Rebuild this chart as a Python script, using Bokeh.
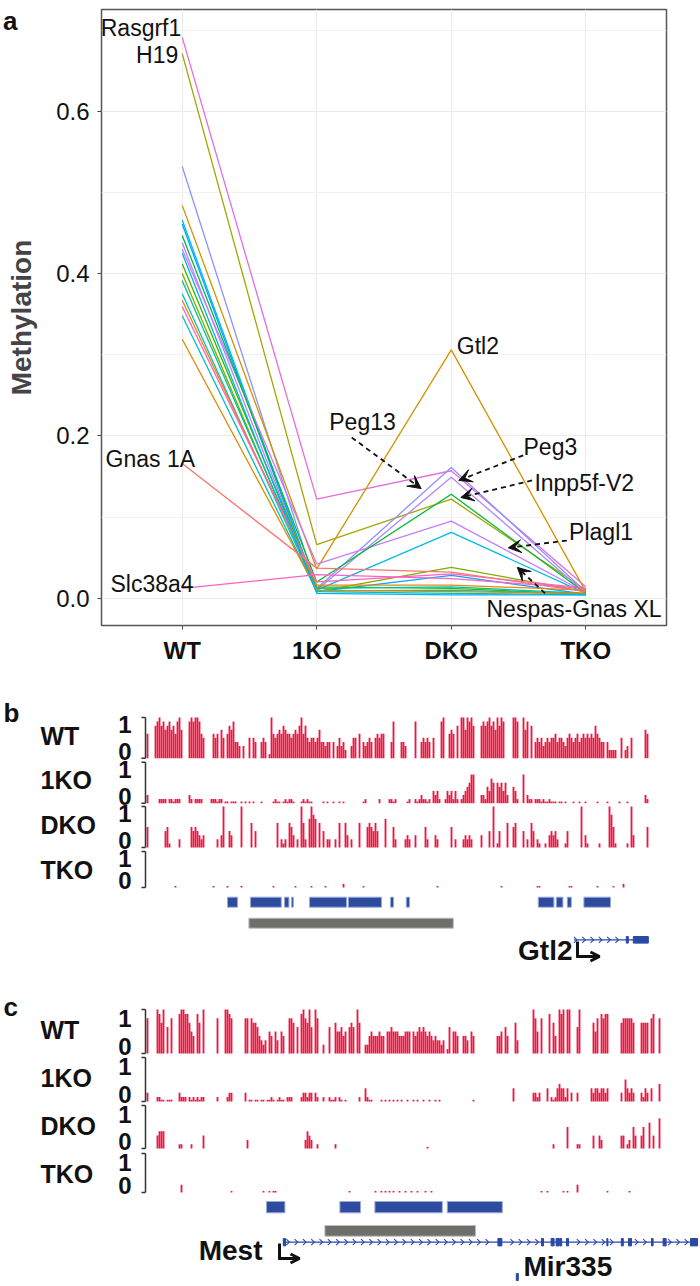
import numpy as np
from bokeh.plotting import figure
from bokeh.models import (Range1d, FixedTicker, PrintfTickFormatter, ColumnDataSource,
                          Arrow, VeeHead, OpenHead, LinearAxis)
from bokeh.layouts import column
from bokeh.embed import file_html
from bokeh.resources import INLINE
from bokeh.core.properties import value

FONT = "Liberation Sans"

# ---------------- panel a data ----------------
stages = ["WT", "1KO", "DKO", "TKO"]
genes = ["Rasgrf1", "H19", "Peg13", "Gtl2", "Nespas-Gnas XL", "Snrpn", "Peg3", "Plagl1",
         "Inpp5f-V2", "Kcnq1ot1", "Mest", "Igf2r", "Zrsr1", "Nnat", "Peg10", "Impact",
         "Grb10", "Nap1l5", "Gnas 1A", "Slc38a4"]
meth_wt = [0.691, 0.671, 0.532, 0.484, 0.466, 0.461, 0.438, 0.430, 0.447, 0.412,
           0.400, 0.391, 0.375, 0.367, 0.359, 0.348, 0.319, 0.425, 0.166, 0.012]
meth_1ko = [0.122, 0.066, 0.012, 0.036, 0.010, 0.008, 0.010, 0.042, 0.020, 0.014,
            0.008, 0.012, 0.009, 0.016, 0.020, 0.008, 0.010, 0.006, 0.037, 0.029]
meth_dko = [0.157, 0.122, 0.161, 0.306, 0.081, 0.028, 0.149, 0.095, 0.128, 0.012,
            0.038, 0.014, 0.010, 0.016, 0.030, 0.006, 0.008, 0.004, 0.032, 0.024]
meth_tko = [0.014, 0.010, 0.008, 0.008, 0.006, 0.005, 0.006, 0.007, 0.006, 0.005,
            0.008, 0.006, 0.005, 0.010, 0.012, 0.004, 0.006, 0.004, 0.008, 0.012]
gene_colors = ["#E36EE0", "#A3A500", "#8B93FF", "#D39200", "#00BCE0", "#00A5FF", "#B385FF",
               "#C77CFF", "#00BA38", "#39B600", "#7CAE00", "#00C19A", "#00BFC4", "#E68613",
               "#FF62BC", "#00C0B8", "#E58700", "#00B0F6", "#F8766D", "#FF61C3"]

label_names = ["Rasgrf1", "H19", "Gnas 1A", "Slc38a4", "Gtl2", "Peg13", "Peg3",
               "Inpp5f-V2", "Plagl1", "Nespas-Gnas XL"]
label_x = [0.993, 0.971, 0.430, 0.467, 3.041, 2.093, 3.537, 3.618, 3.876, 3.262]
label_y = [0.702, 0.669, 0.171, 0.018, 0.311, 0.217, 0.186, 0.142, 0.081, -0.013]
label_align = ["right", "right", "left", "left", "left", "left", "left", "left", "left", "left"]

arrow_genes = ["Peg13", "Peg3", "Inpp5f-V2", "Plagl1", "Nespas-Gnas XL"]
arrow_x0 = [2.260, 3.535, 3.601, 3.859, 3.697]
arrow_y0 = [0.198, 0.176, 0.145, 0.071, 0.006]
arrow_x1 = [2.776, 3.056, 3.071, 3.424, 3.491]
arrow_y1 = [0.135, 0.145, 0.124, 0.062, 0.038]

# ---------------- panels b/c data (one character per CpG bin: '.' none, '0' trace, 1-9 tenths, X = 1) ----
track_names = ["WT", "1KO", "DKO", "TKO"]
b_wt = ["6...89X897897869X7...9X9X", "X965....656.75.6879443.3.", ".5.54..454.1X656768766567",
        "68X68545545744344.4.35342", "..355.6.43454.56566...49.", "..443....9..45454.5...9X.",
        ".676.8.XX7X9X8...8989X897", "X8X9....XX9..X79.8.454534", "5455645543565456456565658",
        "6544.42222..5.23.5......76"]
b_1ko = ["2.....1111.110111....21.1", "111....111011.00.000..0.0", ".0.0...0.....0100.010110.",
         "..010100.....0.0..0..0.0.", "........01......1....1101", ".....01..10121101.3231..1",
         "323131.1234577...2214365.", "545352..431..7.211.111010", "01000.00.0...0..0..0.....",
         "0....0.....0...0........21"]
b_dko = ["5........451....2.....545", "4323......2.3X..43....X..", "..6.4..........6.212.653.",
         "2.X62.7X87.6.4.22..2.6..6", "3.2...6...565464...7...52", "....232..3....52...32....",
         "..5.2...23232....3...4.X.", "14...6..56...4.2.64.21..1", ".34342...14......X.31....",
         ".1....X851.....1.X3......5"]
b_tko = ["..............0..........", "........0......0......0..", ".............0..........0",
         ".......0......0........1.", "........0................", "....................0....",
         ".........................", "..0.................00...", "...........00............",
         "0.......0....1............"]
c_wt = ["8....X97X.6.8...9XX99754.", "97.X......8...XX98......8", "8.87764323.54.53.54..887.",
        "6.9X87X6.X8..2..6..755645", ".676.X7..2245444544.55655", "5444555.5456565454343323.",
        "16.554..443.54...........", "445.64...73.......X85.8..", ".9.74.X9X.XX...6X......75",
        "8.9899......7888887...7777.89..8"]
c_1ko = ["2....1100.000...2111.1010", "1011......1....122......2", ".00.00.00.0010.0100.111..",
         "..122122.21..1..1001.10.0", "......1..3100....0.0.0.0.", "0.0..0..0.0..0..0..0.0...",
         ".............0...........", "........3.........2212...", "3.101343313.2..2......323",
         "323323......2.53232...2132.3...4"]
c_dko = [".....3444.......11....1..", "...3.....................", "2........................",
         "....2432..1........1.....", ".........................", "...............0.........",
         ".........................", ".........................", "...1......5....11......3.",
         ".32.........33.12.53..35..6.3..7"]
c_tko = [".................2.......", ".................0.......", "........0..0.00..........",
         ".........................", ".0............0..0.0.0.0.", ".0..0..0..0...0..0.......",
         ".........................", "......................0..", "0.......0.0....2.........",
         ".....0..........0..............."]

# genomic features (in CpG-bin units)
b_island_start = [40, 51.5, 68.5, 72, 81, 100.4, 121.5, 129.4, 195.4, 204.4, 209.9, 218.2]
b_island_end = [45, 66.9, 70.7, 72.9, 99.5, 117, 123, 131, 203.2, 207.7, 211.9, 231.5]
b_dmr = [50.7, 152.9]
gtl2_tx = [213.2, 250.4]
gtl2_exon_start = [239.4, 242.9]
gtl2_exon_end = [240.4, 250.4]
c_island_start = [59.5, 96.2, 113.7, 149.9]
c_island_end = [68.7, 106.5, 147.4, 177.4]
c_dmr = [88.7, 164]
mest_tx = [67.9, 275]
mest_exon_start = [67.9, 175.2, 197.0, 201.8, 204.3, 206.1, 209.5, 229.7, 236.9, 240.5, 252.0, 257.8, 271.5]
mest_exon_end = [69.0, 177.2, 198.0, 203.3, 205.8, 207.1, 210.5, 230.2, 237.9, 242.0, 252.8, 259.3, 275]
mir335_pos = 184.9

RED = "#EA1840"
BLUE = "#2A48A6"
ISLAND = "#2D4B9F"
GREY = "#6F6E6A"


def parse(segs):
    s = "".join(segs)
    pos, val = [], []
    for i, ch in enumerate(s):
        if ch == ".":
            continue
        v = 1.0 if ch == "X" else (0.04 if ch == "0" else int(ch) / 10)
        pos.append(i)
        val.append(v)
    return np.array(pos, dtype=float), np.array(val)


# ---------------- panel a figure ----------------
pa = figure(width=700, height=668, x_range=Range1d(0.4, 4.6), y_range=Range1d(-0.0337, 0.7254),
            output_backend="svg", toolbar_location=None,
            min_border_left=98, min_border_right=34, min_border_top=9, min_border_bottom=43)
pa.xaxis.ticker = FixedTicker(ticks=[1, 2, 3, 4])
pa.xaxis.major_label_overrides = {i + 1: s for i, s in enumerate(stages)}
pa.yaxis.ticker = FixedTicker(ticks=[0, 0.2, 0.4, 0.6], minor_ticks=[0.1, 0.3, 0.5, 0.7])
pa.yaxis.formatter = PrintfTickFormatter(format="%.1f")
pa.xgrid.grid_line_color = "#EBEBEB"
pa.ygrid.grid_line_color = "#EBEBEB"
pa.ygrid.minor_grid_line_color = "#F2F2F2"
pa.outline_line_color = "#555555"
pa.outline_line_width = 1.5
pa.axis.axis_line_color = None
pa.axis.major_tick_line_color = "#444444"
pa.axis.major_tick_out = 4
pa.axis.major_tick_in = 0
pa.axis.minor_tick_line_color = None
pa.axis.major_label_text_font = FONT
pa.axis.major_label_text_font_size = "24px"
pa.axis.major_label_text_color = "#111111"
pa.xaxis.major_label_text_font_style = "bold"
pa.xaxis.major_label_standoff = 7
pa.yaxis.major_label_standoff = 8
pa.yaxis.axis_label = "Methylation"
pa.yaxis.axis_label_text_font = FONT
pa.yaxis.axis_label_text_font_style = "bold"
pa.yaxis.axis_label_text_font_size = "28px"
pa.yaxis.axis_label_standoff = 16

# panel letter "a" carried by an outer, line-less axis
ax_a = LinearAxis(ticker=FixedTicker(ticks=[0.7245]), formatter=PrintfTickFormatter(format="a"),
                  axis_line_color=None, major_tick_line_color=None, minor_tick_line_color=None,
                  major_tick_out=0, major_tick_in=0, major_label_standoff=-14,
                  major_label_text_font=FONT, major_label_text_font_style="bold",
                  major_label_text_font_size="26px", major_label_text_color="#111111")
pa.add_layout(ax_a, "left")

src = ColumnDataSource(dict(
    xs=[[1, 2, 3, 4] for _ in genes],
    ys=[[a, b, c, d] for a, b, c, d in zip(meth_wt, meth_1ko, meth_dko, meth_tko)],
    color=gene_colors))
pa.multi_line(xs="xs", ys="ys", line_color="color", line_width=1.3, source=src)

for align in ("left", "right"):
    idx = [i for i, a in enumerate(label_align) if a == align]
    pa.text(x=[label_x[i] for i in idx], y=[label_y[i] for i in idx],
            text=[label_names[i] for i in idx], text_align=align, text_baseline="middle",
            text_font=value(FONT), text_font_size="23px", text_color="#111111")

for x0, y0, x1, y1 in zip(arrow_x0, arrow_y0, arrow_x1, arrow_y1):
    pa.add_layout(Arrow(x_start=x0, y_start=y0, x_end=x1, y_end=y1, line_dash="5 4",
                        line_width=1.8, line_color="#111111",
                        end=VeeHead(size=13, fill_color="#111111", line_color="#111111")))

# ---------------- panels b & c figure ----------------
pb = figure(width=700, height=618, x_range=Range1d(-73.5, 276.5), y_range=Range1d(1286, 668),
            output_backend="svg", toolbar_location=None, x_axis_location=None,
            y_axis_location=None, min_border=0)
pb.xgrid.grid_line_color = None
pb.ygrid.grid_line_color = None
pb.outline_line_color = None

for fig in (pa, pb):
    try:
        fig.frame_align = False
    except Exception:
        pass


def txt(fig, x, y, s, size, align="left", bold=True, color="#111111"):
    fig.text(x=[x], y=[y], text=[s], text_align=align, text_baseline="middle",
             text_font=value(FONT), text_font_size=size,
             text_font_style="bold" if bold else "normal", text_color=color)


def draw_track(fig, name, track, top, bottom, name_dy, one_dy, zero_dy):
    pos, val = parse(track)
    fig.vbar(x=pos, width=0.92, bottom=bottom, top=bottom - val * (bottom - top),
             fill_color=RED, line_color=None)
    fig.segment(x0=[-1, -3, -3], y0=[top, top, bottom], x1=[-1, -1, -1], y1=[bottom, top, bottom],
                line_color="#333333", line_width=1.5)
    txt(fig, -53.5, top + name_dy, name, "25px")
    txt(fig, -8, top + one_dy, "1", "24px", align="right")
    txt(fig, -8, bottom + zero_dy, "0", "24px", align="right")


def chevrons(fig, x0, x1, y, step, avoid):
    keep = [c for c in np.arange(x0, x1, step) if not any(a - 1.2 <= c <= b + 1.2 for a, b in avoid)]
    fig.multi_line(xs=[[c - 1.0, c + 0.6, c - 1.0] for c in keep],
                   ys=[[y - 3, y, y + 3] for c in keep], line_color=BLUE, line_width=1.1)


# panel b
txt(pb, -72, 712, "b", "26px")
b_tracks = [b_wt, b_1ko, b_dko, b_tko]
b_tops = [717, 761.7, 806, 851]
b_bottoms = [757.7, 802.7, 847, 887]
for nm, tr, t, bt in zip(track_names, b_tracks, b_tops, b_bottoms):
    draw_track(pb, nm, tr, t, bt, 18, 7, -7)
pb.quad(left=b_island_start, right=b_island_end, top=896.7, bottom=906.7,
        fill_color=ISLAND, line_color="#9AA8D6", line_width=1)
pb.quad(left=[b_dmr[0]], right=[b_dmr[1]], top=917.7, bottom=927.7,
        fill_color=GREY, line_color="#BDBDBD", line_width=1)
pb.segment(x0=[gtl2_tx[0]], y0=[939.3], x1=[gtl2_tx[1]], y1=[939.3], line_color=BLUE, line_width=1.3)
chevrons(pb, gtl2_tx[0] + 1.0, gtl2_exon_start[0], 939.3, 4.15, list(zip(gtl2_exon_start, gtl2_exon_end)))
pb.quad(left=gtl2_exon_start, right=gtl2_exon_end, top=936, bottom=942.6, fill_color=BLUE, line_color=BLUE)
pb.segment(x0=[215], y0=[941], x1=[215], y1=[956], line_color="#111111", line_width=3)
pb.add_layout(Arrow(x_start=214.3, y_start=956, x_end=226, y_end=956, line_color="#111111", line_width=3,
                    end=OpenHead(size=9, line_width=3, line_color="#111111")))
txt(pb, 212.5, 950, "Gtl2", "28px", align="right")

# panel c
txt(pb, -72, 1006, "c", "26px")
c_tracks = [c_wt, c_1ko, c_dko, c_tko]
c_tops = [1009, 1057, 1105, 1153]
c_bottoms = [1053, 1101, 1148, 1192]
for nm, tr, t, bt in zip(track_names, c_tracks, c_tops, c_bottoms):
    draw_track(pb, nm, tr, t, bt, 20, 9, -7)
pb.quad(left=c_island_start, right=c_island_end, top=1201, bottom=1212.3,
        fill_color=ISLAND, line_color="#9AA8D6", line_width=1)
pb.quad(left=[c_dmr[0]], right=[c_dmr[1]], top=1225, bottom=1235.7,
        fill_color=GREY, line_color="#BDBDBD", line_width=1)
pb.segment(x0=[mest_tx[0]], y0=[1241.7], x1=[mest_tx[1]], y1=[1241.7], line_color=BLUE, line_width=1.3)
chevrons(pb, mest_tx[0] + 2.5, mest_tx[1] - 3, 1241.7, 4.15, list(zip(mest_exon_start, mest_exon_end)))
pb.quad(left=mest_exon_start, right=mest_exon_end, top=1238, bottom=1245.4, fill_color=BLUE, line_color=BLUE)
pb.quad(left=[mir335_pos - 0.5], right=[mir335_pos + 0.5], top=1273, bottom=1280,
        fill_color=BLUE, line_color=BLUE)
pb.segment(x0=[66], y0=[1243], x1=[66], y1=[1258], line_color="#111111", line_width=3)
pb.add_layout(Arrow(x_start=65.3, y_start=1258, x_end=76, y_end=1258, line_color="#111111", line_width=3,
                    end=OpenHead(size=9, line_width=3, line_color="#111111")))
txt(pb, 57.5, 1250, "Mest", "28px", align="right")
txt(pb, 188, 1266, "Mir335", "28px")

layout = column(pa, pb, spacing=0)
open("out.html", "w").write(file_html(layout, INLINE))
